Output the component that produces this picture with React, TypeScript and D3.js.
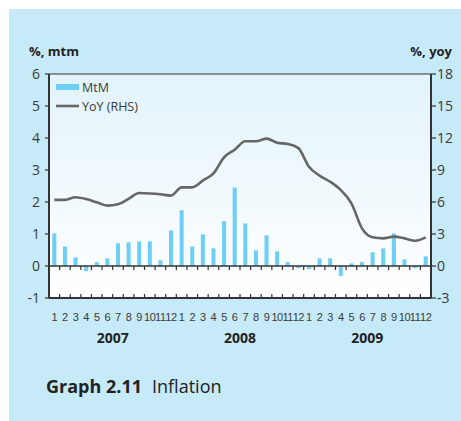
import React from "react";
import * as d3 from "d3";

const years = ["2007", "2008", "2009"];
const monthLabels = ["1","2","3","4","5","6","7","8","9","10","11","12"];
const mtm = [
  1.02, 0.61, 0.27, -0.16, 0.12, 0.24, 0.71, 0.74, 0.77, 0.77, 0.18, 1.11,
  1.74, 0.61, 0.99, 0.55, 1.40, 2.45, 1.33, 0.49, 0.96, 0.46, 0.12, -0.07,
  -0.10, 0.24, 0.24, -0.31, 0.08, 0.12, 0.43, 0.55, 1.02, 0.21, -0.07, 0.30,
];
const yoy = [
  6.2, 6.2, 6.45, 6.28, 5.97, 5.66, 5.78, 6.3, 6.84, 6.8, 6.72, 6.6,
  7.37, 7.37, 8.0, 8.69, 10.19, 10.9, 11.69, 11.69, 11.94, 11.56, 11.44, 11.05,
  9.31, 8.47, 7.9, 7.12, 5.87, 3.53, 2.69, 2.59, 2.75, 2.59, 2.37, 2.69,
];
const leftTicks = [-1, 0, 1, 2, 3, 4, 5, 6];
const rightTicks = [-3, 0, 3, 6, 9, 12, 15, 18];

export default function App() {
  const W = 461, H = 421;
  const L = 49, R = 431, T = 74, B = 298;
  const idx = d3.range(mtm.length);
  const x = d3.scaleBand<number>().domain(idx).range([L, R]).paddingInner(0.62).paddingOuter(0.31);
  const xb = d3.scaleLinear().domain([0, mtm.length]).range([L, R]);
  const y = d3.scaleLinear().domain([-1, 6]).range([B, T]);
  const y2 = d3.scaleLinear().domain([-3, 18]).range([B, T]);
  const cx = (i: number) => xb(i + 0.5);
  const line = d3.line<number>().x((_, i) => cx(i)).y((v) => y2(v)).curve(d3.curveMonotoneX);
  const axisColor = "#333";
  const textColor = "#3a3a3a";
  const font = "'Open Sans', 'DejaVu Sans', sans-serif";
  const narrow = "'Liberation Sans Narrow', 'Arial Narrow', 'Liberation Sans', sans-serif";
  return (
    <svg width={W} height={H} style={{ position: "absolute", left: 0, top: 0 }}>
      <defs>
        <linearGradient id="pg" x1="0" y1="0" x2="0" y2="1">
          <stop offset="0" stopColor="#e2f3fb" />
          <stop offset="1" stopColor="#ffffff" />
        </linearGradient>
      </defs>
      <rect x={9} y={9} width={W - 9} height={H - 9} fill="#c7eaf9" />
      <rect x={L} y={T} width={R - L} height={B - T} fill="url(#pg)" />
      <text x={29} y={56} fontFamily={font} fontWeight="bold" fontSize={13} fill="#222">%, mtm</text>
      <text x={452} y={56} fontFamily={font} fontWeight="bold" fontSize={13} fill="#222" textAnchor="end">%, yoy</text>
      {mtm.map((v, i) => (
        <rect key={i} x={x(i)} width={x.bandwidth()} y={Math.min(y(v), y(0))} height={Math.abs(y(v) - y(0))} fill="#6dcff6" />
      ))}
      <path d={line(yoy) || ""} fill="none" stroke="#666666" strokeWidth={2.6} strokeLinejoin="round" />
      <line x1={L} x2={R} y1={T} y2={T} stroke={axisColor} strokeWidth={1} />
      <line x1={L} x2={L} y1={T} y2={B} stroke={axisColor} strokeWidth={2} />
      <line x1={R} x2={R} y1={T} y2={B} stroke={axisColor} strokeWidth={2} />
      <line x1={L} x2={R} y1={B} y2={B} stroke={axisColor} strokeWidth={2} />
      <line x1={L} x2={R} y1={y(0)} y2={y(0)} stroke={axisColor} strokeWidth={1.5} />
      {d3.range(1, mtm.length).map((i) => (
        <g key={i}>
          <line x1={xb(i)} x2={xb(i)} y1={y(0)} y2={y(0) + 4} stroke={axisColor} strokeWidth={1.2} />
          <line x1={xb(i)} x2={xb(i)} y1={B} y2={B - 4} stroke={axisColor} strokeWidth={1.2} />
        </g>
      ))}
      {leftTicks.map((t) => (
        <g key={t}>
          <line x1={L - 4} x2={L} y1={y(t)} y2={y(t)} stroke={axisColor} strokeWidth={1.2} />
          <text x={40} y={y(t) + 5} textAnchor="end" fontFamily={font} fontSize={14} fill={textColor}>{t}</text>
        </g>
      ))}
      {rightTicks.map((t) => (
        <g key={t}>
          <line x1={R} x2={R + 5} y1={y2(t)} y2={y2(t)} stroke={axisColor} strokeWidth={1.2} />
          <text x={437} y={y2(t) + 5} fontFamily={font} fontSize={14} fill={textColor}>{t}</text>
        </g>
      ))}
      {idx.map((i) => (
        <text key={i} x={cx(i)} y={321} textAnchor="middle" fontFamily={narrow} fontSize={11} letterSpacing={-0.4} fill={textColor}>
          {monthLabels[i % 12]}
        </text>
      ))}
      {years.map((yr, k) => (
        <text key={yr} x={xb(k * 12 + 6)} y={343} textAnchor="middle" fontFamily={font} fontWeight="bold" fontSize={14} fill="#222">{yr}</text>
      ))}
      <rect x={56} y={84} width={23} height={6} fill="#6dcff6" />
      <text x={82} y={92} fontFamily={font} fontSize={12.5} fill={textColor}>MtM</text>
      <line x1={56} x2={79} y1={106} y2={106} stroke="#666666" strokeWidth={2.6} />
      <text x={82} y={111} fontFamily={font} fontSize={12.5} fill={textColor}>YoY (RHS)</text>
      <text x={46} y={393} fontFamily={font} fontSize={18} fill="#222">
        <tspan fontWeight="bold">Graph 2.11</tspan>
        <tspan dx={10}>Inflation</tspan>
      </text>
    </svg>
  );
}
